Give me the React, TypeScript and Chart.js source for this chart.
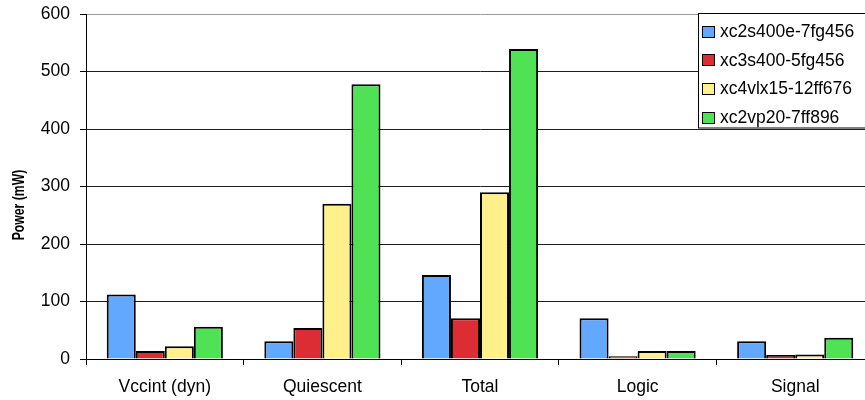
import React, { useEffect, useRef } from "react";
import { Chart, registerables } from "chart.js";

Chart.register(...registerables);

// Power consumption per category for four FPGA devices (mW)
const categories = ["Vccint (dyn)", "Quiescent", "Total", "Logic", "Signal"];
const seriesNames = ["xc2s400e-7fg456", "xc3s400-5fg456", "xc4vlx15-12ff676", "xc2vp20-7ff896"];
const xc2s400e = [112, 31, 146, 71, 31];
const xc3s400 = [14, 54, 71, 5, 7];
const xc4vlx15 = [22, 270, 290, 14, 8];
const xc2vp20 = [56, 478, 539, 14, 37];
const seriesValues = [xc2s400e, xc3s400, xc4vlx15, xc2vp20];
const seriesColors = ["#62a8ff", "#dc2d35", "#fff08c", "#50e255"];
const yMin = 0;
const yMax = 600;
const yStep = 100;
const yTitle = "Power (mW)";

const FONT = "'Liberation Sans', Arial, sans-serif";

// Boxed legend in the upper right corner, drawn over the plot
const boxLegend = {
  id: "boxLegend",
  afterDraw(chart: any) {
    const ctx = chart.ctx;
    ctx.save();
    const left = 698.5;
    const top = 13.5;
    ctx.fillStyle = "#fff";
    ctx.fillRect(left, top, 220, 114.5);
    ctx.strokeStyle = "#000";
    ctx.lineWidth = 1;
    ctx.strokeRect(left, top, 220, 114.5);
    ctx.font = `17.5px ${FONT}`;
    ctx.textBaseline = "middle";
    ctx.textAlign = "left";
    chart.data.datasets.forEach((ds: any, i: number) => {
      const cy = 31 + i * 28.7;
      ctx.fillStyle = ds.backgroundColor;
      ctx.fillRect(702.5, Math.round(cy - 5.5) + 0.5, 12, 11);
      ctx.strokeStyle = "#000";
      ctx.lineWidth = 1;
      ctx.strokeRect(702.5, Math.round(cy - 5.5) + 0.5, 12, 11);
      ctx.fillStyle = "#000";
      ctx.fillText(ds.label, 720, cy + 1);
    });
    ctx.restore();
  },
};

// Rotated, slightly condensed y-axis title
const yAxisTitle = {
  id: "yAxisTitle",
  afterDraw(chart: any) {
    const ctx = chart.ctx;
    ctx.save();
    ctx.translate(19.5, 205);
    ctx.rotate(-Math.PI / 2);
    ctx.scale(0.72, 1);
    ctx.font = `bold 17px ${FONT}`;
    ctx.fillStyle = "#000";
    ctx.textAlign = "center";
    ctx.textBaseline = "middle";
    ctx.fillText(yTitle, 0, 0);
    ctx.restore();
  },
};

export default function App() {
  const canvasRef = useRef<HTMLCanvasElement | null>(null);

  useEffect(() => {
    const canvas = canvasRef.current;
    if (!canvas) return;
    const chart = new Chart(canvas, {
      type: "bar",
      data: {
        labels: categories,
        datasets: seriesNames.map((name, i) => ({
          label: name,
          data: seriesValues[i],
          backgroundColor: seriesColors[i],
          borderColor: "#000",
          borderWidth: 2,
          barPercentage: 1,
          categoryPercentage: 0.737,
        })),
      },
      options: {
        responsive: false,
        animation: false,
        devicePixelRatio: 1,
        layout: { padding: { top: 14, left: 0, right: 0, bottom: 0 } },
        plugins: {
          legend: { display: false },
          tooltip: { enabled: false },
        },
        scales: {
          x: {
            offset: true,
            grid: {
              display: true,
              offset: true,
              drawOnChartArea: false,
              tickLength: 6,
              tickColor: "#000",
            },
            border: { color: "#000", width: 1 },
            ticks: {
              color: "#000",
              font: { family: FONT, size: 17.5 },
              padding: 12,
              maxRotation: 0,
              autoSkip: false,
            },
            afterFit: (s: any) => {
              s.height = 41;
              s.paddingLeft = 0;
              s.paddingRight = 0;
            },
          },
          y: {
            min: yMin,
            max: yMax,
            ticks: {
              stepSize: yStep,
              color: "#000",
              font: { family: FONT, size: 17.5 },
              padding: 10,
            },
            grid: {
              color: (c: any) => (c.tick && c.tick.value === yMax ? "#9a9a9a" : "#1e1e1e"),
              tickColor: "#000",
              tickLength: 6,
              lineWidth: 1,
            },
            border: { color: "#000", width: 1 },
            afterFit: (s: any) => {
              s.width = 86;
              s.paddingTop = 0;
              s.paddingBottom = 0;
            },
          },
        },
      },
      plugins: [yAxisTitle, boxLegend],
    });
    return () => chart.destroy();
  }, []);

  return (
    <div style={{ position: "fixed", left: 0, top: 0, width: 874, height: 400, background: "#fff" }}>
      <canvas ref={canvasRef} width={874} height={400} style={{ display: "block" }} />
    </div>
  );
}
